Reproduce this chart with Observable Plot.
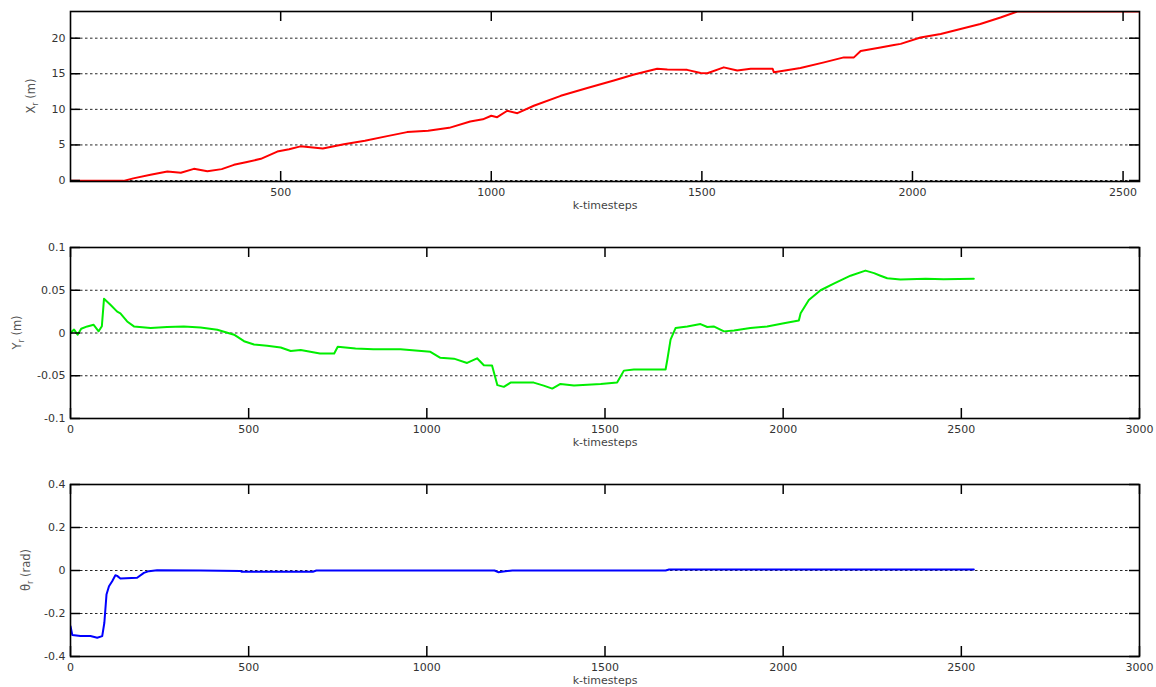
<!DOCTYPE html>
<html>
<head>
<meta charset="utf-8">
<script src="https://cdn.jsdelivr.net/npm/d3@7"></script>
<script src="https://cdn.jsdelivr.net/npm/@observablehq/plot@0.6"></script>
<style>
  html, body { margin: 0; padding: 0; background: #fff; }
  #wrap { position: relative; width: 1156px; height: 687px; overflow: hidden; background: #fff; }
  #wrap svg { position: absolute; left: 0; }
</style>
</head>
<body>
<div id="wrap"></div>
<script>
// ---------- data ----------
// Panel 1: X_r (m) vs k-timesteps
const xrK = [1, 127, 150, 191, 231, 263, 294, 326, 360, 389, 420, 453, 492, 520, 547, 600, 650, 700, 750, 800, 850, 900, 950, 980, 1000, 1014, 1038, 1062, 1101, 1165, 1228, 1291, 1339, 1394, 1418, 1465, 1497, 1513, 1552, 1584, 1616, 1668, 1671, 1690, 1734, 1790, 1837, 1861, 1877, 1924, 1956, 1972, 2019, 2067, 2114, 2161, 2209, 2249, 2539];
const xrV = [-0.05, -0.05, 0.3, 0.8, 1.26, 1.08, 1.64, 1.3, 1.6, 2.2, 2.6, 3.05, 4.07, 4.4, 4.8, 4.5, 5.1, 5.6, 6.2, 6.8, 7.0, 7.4, 8.3, 8.6, 9.1, 8.9, 9.8, 9.46, 10.5, 11.9, 13.0, 14.05, 14.9, 15.7, 15.6, 15.55, 15.1, 15.08, 15.9, 15.45, 15.7, 15.7, 15.2, 15.4, 15.8, 16.6, 17.3, 17.3, 18.2, 18.7, 19.05, 19.2, 20.1, 20.6, 21.3, 22.0, 22.9, 23.75, 23.75];

// Panel 2: Y_r (m)
const yrK = [0, 10, 20, 30, 47, 65, 79, 88, 94, 112, 131, 140, 159, 178, 225, 271, 318, 365, 412, 459, 487, 515, 552, 590, 618, 646, 700, 740, 750, 800, 850, 926, 1010, 1038, 1076, 1113, 1141, 1160, 1183, 1198, 1216, 1235, 1300, 1328, 1352, 1375, 1413, 1488, 1534, 1553, 1581, 1670, 1675, 1684, 1698, 1731, 1768, 1787, 1805, 1834, 1862, 1908, 1955, 2002, 2044, 2049, 2072, 2105, 2142, 2189, 2231, 2255, 2273, 2292, 2329, 2400, 2450, 2535];
const yrV = [0, 0.004, -0.002, 0.005, 0.0077, 0.0096, 0.002, 0.008, 0.040, 0.033, 0.025, 0.023, 0.0135, 0.0077, 0.0058, 0.007, 0.0077, 0.0065, 0.0038, -0.002, -0.0096, -0.0135, -0.015, -0.017, -0.021, -0.020, -0.024, -0.024, -0.016, -0.018, -0.019, -0.019, -0.022, -0.029, -0.030, -0.035, -0.0296, -0.0377, -0.038, -0.061, -0.063, -0.058, -0.058, -0.0615, -0.065, -0.0596, -0.0615, -0.0596, -0.058, -0.044, -0.0427, -0.0427, -0.031, -0.0077, 0.0058, 0.0077, 0.0104, 0.007, 0.0077, 0.0019, 0.003, 0.0058, 0.0077, 0.0115, 0.0146, 0.023, 0.0385, 0.05, 0.0577, 0.067, 0.073, 0.070, 0.067, 0.064, 0.0627, 0.0635, 0.0630, 0.0635];

// Panel 3: theta_r (rad)
const thK = [0, 5, 28, 56, 75, 89, 95, 101, 108, 117, 126, 131, 140, 187, 206, 220, 243, 365, 477, 480, 680, 690, 1190, 1200, 1220, 1240, 1670, 1680, 2535];
const thV = [-0.259, -0.30, -0.305, -0.305, -0.313, -0.305, -0.243, -0.112, -0.073, -0.05, -0.022, -0.025, -0.037, -0.034, -0.011, -0.003, 0.0016, 0, -0.002, -0.006, -0.006, 0, 0, -0.008, -0.003, 0, 0, 0.005, 0.005];

// ticks
const xTicksTop = [500, 1000, 1500, 2000, 2500];
const xTicks = [0, 500, 1000, 1500, 2000, 2500, 3000];
const yTicksX = [0, 5, 10, 15, 20];
const yTicksY = [-0.1, -0.05, 0, 0.05, 0.1];
const yTicksT = [-0.4, -0.2, 0, 0.2, 0.4];
const xLabel = "k-timesteps";

// ---------- drawing ----------
const FONT = "'DejaVu Sans', sans-serif";
const wrap = document.getElementById("wrap");
const TL = 10; // inward tick length
const W = 1156, ML = 70, MR = 17;

function zip(ks, vs) { return ks.map((k, i) => ({k, v: vs[i]})); }

function panel({top, height, mt, mb, xDomain, xt, yDomain, yt, data, color, lab, labX}) {
  const ph = height - mt - mb;
  const pw = W - ML - MR;
  const tk = {stroke: "#000", strokeWidth: 1.5};
  const svg = Plot.plot({
    width: W, height,
    marginLeft: ML, marginRight: MR, marginTop: mt, marginBottom: mb,
    style: {fontFamily: FONT, fontSize: "11px", color: "#333", background: "transparent"},
    x: {domain: xDomain, label: null},
    y: {domain: yDomain, label: null},
    marks: [
      Plot.gridY(yt, {stroke: "#000", strokeOpacity: 0.85, strokeDasharray: "2.5,2.5", strokeWidth: 1}),
      Plot.line(data, {x: "k", y: "v", stroke: color, strokeWidth: 2, clip: true}),
      // inward ticks on all four sides
      Plot.tickX(xt, {x: d => d, insetTop: ph - TL, ...tk}),
      Plot.tickX(xt, {x: d => d, insetBottom: ph - TL, ...tk}),
      Plot.tickY(yt, {y: d => d, insetRight: pw - TL, ...tk}),
      Plot.tickY(yt, {y: d => d, insetLeft: pw - TL, ...tk}),
      // tick labels
      Plot.axisX(xt, {anchor: "bottom", tickSize: 0, tickPadding: 7, fill: "#333", tickFormat: d => String(d), label: null}),
      Plot.axisY(yt, {anchor: "left", tickSize: 0, tickPadding: 5, fill: "#333", tickFormat: d => String(d), label: null}),
      Plot.frame({stroke: "#000", strokeWidth: 1.6}),
      Plot.text([xLabel], {frameAnchor: "bottom", dy: 27, fill: "#444", fontSize: 11})
    ]
  });
  svg.style.top = top + "px";
  const cy = mt + ph / 2;
  const t = d3.select(svg).append("text")
    .attr("transform", `translate(${labX},${cy}) rotate(-90)`)
    .attr("text-anchor", "middle")
    .attr("dy", "0.35em")
    .attr("fill", "#555")
    .style("font-family", FONT)
    .style("font-size", "11.5px");
  t.append("tspan").text(lab[0]);
  t.append("tspan").attr("dy", 3).style("font-size", "8px").text(lab[1]);
  t.append("tspan").attr("dy", -3).text(lab[2]);
  wrap.appendChild(svg);
}

panel({top: 0, height: 225, mt: 11, mb: 44, xDomain: [1, 2539], xt: xTicksTop,
       yDomain: [-0.14, 23.75], yt: yTicksX, data: zip(xrK, xrV),
       color: "#ff0000", lab: ["X", "r", " (m)"], labX: 31});
panel({top: 225, height: 235, mt: 22, mb: 42, xDomain: [0, 3000], xt: xTicks,
       yDomain: [-0.1, 0.1], yt: yTicksY, data: zip(yrK, yrV),
       color: "#00ee00", lab: ["Y", "r", " (m)"], labX: 17});
panel({top: 460, height: 227, mt: 24, mb: 31, xDomain: [0, 3000], xt: xTicks,
       yDomain: [-0.4, 0.4], yt: yTicksT, data: zip(thK, thV),
       color: "#0000ff", lab: ["θ", "r", " (rad)"], labX: 26});
</script>
</body>
</html>
